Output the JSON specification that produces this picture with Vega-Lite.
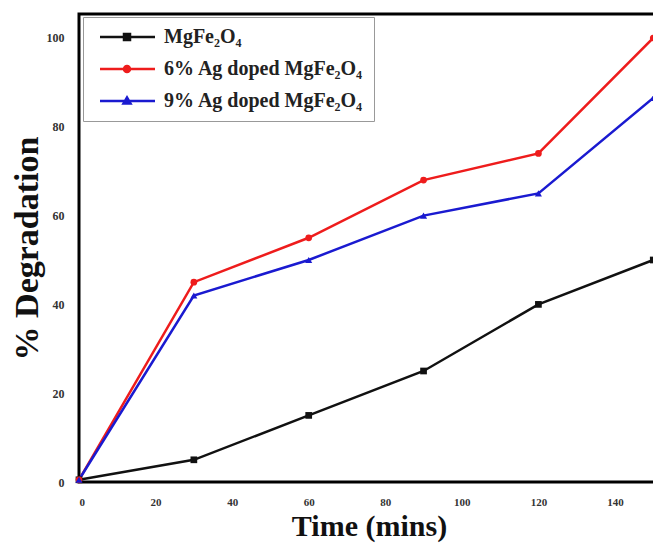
{
  "$schema": "https://vega.github.io/schema/vega-lite/v6.json",
  "width": 580,
  "height": 468,
  "autosize": {"type": "none"},
  "padding": {"left": 79, "top": 14, "right": 0, "bottom": 62},
  "background": "white",
  "config": {
    "view": {"stroke": "black", "strokeWidth": 3},
    "font": "Liberation Serif"
  },
  "data": {
    "values": [
      {"series": "MgFe₂O₄", "time": 0, "deg": 0.5},
      {"series": "MgFe₂O₄", "time": 30, "deg": 5},
      {"series": "MgFe₂O₄", "time": 60, "deg": 15},
      {"series": "MgFe₂O₄", "time": 90, "deg": 25},
      {"series": "MgFe₂O₄", "time": 120, "deg": 40},
      {"series": "MgFe₂O₄", "time": 150, "deg": 50},
      {"series": "6% Ag doped MgFe₂O₄", "time": 0, "deg": 0.5},
      {"series": "6% Ag doped MgFe₂O₄", "time": 30, "deg": 45},
      {"series": "6% Ag doped MgFe₂O₄", "time": 60, "deg": 55},
      {"series": "6% Ag doped MgFe₂O₄", "time": 90, "deg": 68},
      {"series": "6% Ag doped MgFe₂O₄", "time": 120, "deg": 74},
      {"series": "6% Ag doped MgFe₂O₄", "time": 150, "deg": 100},
      {"series": "9% Ag doped MgFe₂O₄", "time": 0, "deg": 0.5},
      {"series": "9% Ag doped MgFe₂O₄", "time": 30, "deg": 42},
      {"series": "9% Ag doped MgFe₂O₄", "time": 60, "deg": 50},
      {"series": "9% Ag doped MgFe₂O₄", "time": 90, "deg": 60},
      {"series": "9% Ag doped MgFe₂O₄", "time": 120, "deg": 65},
      {"series": "9% Ag doped MgFe₂O₄", "time": 150, "deg": 86.5}
    ]
  },
  "encoding": {
    "x": {
      "field": "time", "type": "quantitative",
      "scale": {"domain": [0, 151.5], "nice": false},
      "axis": {
        "values": [0, 20, 40, 60, 80, 100, 120, 140],
        "title": "Time (mins)",
        "grid": false, "domain": false, "ticks": false, "tickSize": 0,
        "labelFont": "Liberation Serif", "labelFontWeight": "bold", "labelFontSize": 11, "labelColor": "#333",
        "labelPadding": 14,
        "titleFont": "Liberation Serif", "titleFontWeight": "bold", "titleFontSize": 30, "titleColor": "#111",
        "titlePadding": 4
      }
    },
    "y": {
      "field": "deg", "type": "quantitative",
      "scale": {"domain": [0, 105.4], "nice": false},
      "axis": {
        "values": [0, 20, 40, 60, 80, 100],
        "title": "% Degradation",
        "grid": false, "domain": false, "ticks": false, "tickSize": 0,
        "labelFont": "Liberation Serif", "labelFontWeight": "bold", "labelFontSize": 12, "labelColor": "#333",
        "labelPadding": 15,
        "titleFont": "Liberation Serif", "titleFontWeight": "bold", "titleFontSize": 34, "titleColor": "#111",
        "titlePadding": 2
      }
    },
    "color": {
      "field": "series", "type": "nominal",
      "scale": {
        "domain": ["MgFe₂O₄", "6% Ag doped MgFe₂O₄", "9% Ag doped MgFe₂O₄"],
        "range": ["#111111", "#ee1c1c", "#1a1ad0"]
      },
      "legend": {
        "orient": "none", "legendX": 4, "legendY": 3,
        "title": null,
        "padding": 10,
        "strokeColor": "#999999", "fillColor": "white",
        "labelFont": "Liberation Serif", "labelFontWeight": "bold", "labelFontSize": 20, "labelColor": "#222",
        "labelLimit": 0, "labelOffset": 51,
        "symbolSize": 100, "symbolStrokeWidth": 2.5, "symbolOpacity": 1,
        "rowPadding": 12,
        "encode": {
          "symbols": {
            "update": {
              "shape": {"signal": "datum.value === 'MgFe₂O₄' ? 'M-0.6,0H10.4M4.2,-0.6H5.4V0.6H4.2Z' : datum.value === '9% Ag doped MgFe₂O₄' ? 'M-0.6,0H10.4M4.1,0.5H5.5L4.8,-0.7Z' : 'M-0.6,0H10.4M4.2,0A0.6,0.6 0 1,0 5.4,0A0.6,0.6 0 1,0 4.2,0Z'"},
              "fill": {"scale": "color", "field": "value"},
              "stroke": {"scale": "color", "field": "value"},
              "strokeWidth": {"value": 2.5}
            }
          }
        }
      }
    }
  },
  "layer": [
    {"mark": {"type": "line", "strokeWidth": 2.5}},
    {
      "transform": [{"filter": "datum.series === 'MgFe₂O₄'"}],
      "mark": {"type": "point", "filled": true, "opacity": 1, "size": 45, "shape": "square"}
    },
    {
      "transform": [{"filter": "datum.series === '6% Ag doped MgFe₂O₄'"}],
      "mark": {"type": "point", "filled": true, "opacity": 1, "size": 45, "shape": "circle"}
    },
    {
      "transform": [{"filter": "datum.series === '9% Ag doped MgFe₂O₄'"}],
      "mark": {"type": "point", "filled": true, "opacity": 1, "size": 50, "shape": "triangle-up"}
    }
  ]
}
